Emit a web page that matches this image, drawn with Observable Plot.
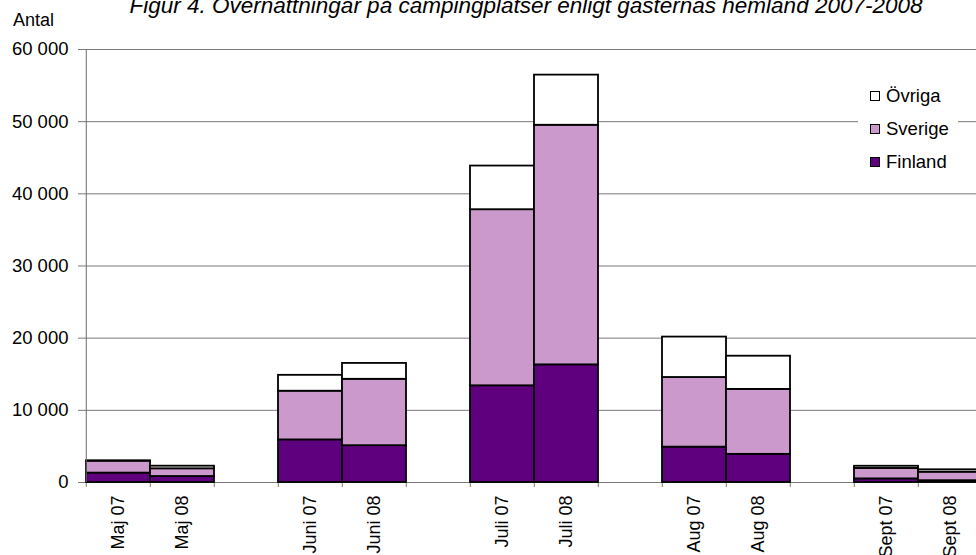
<!DOCTYPE html>
<html>
<head>
<meta charset="utf-8">
<script src="https://cdn.jsdelivr.net/npm/d3@7"></script>
<script src="https://cdn.jsdelivr.net/npm/@observablehq/plot@0.6"></script>
<style>
  html, body { margin: 0; padding: 0; background: #fff; overflow: hidden; }
  #wrap { position: relative; width: 976px; height: 555px; overflow: hidden; font-family: "Liberation Sans", Arial, sans-serif; color: #000; }
  #chart svg { display: block; max-width: none; }
  #title { position: absolute; left: 526px; top: -5px; transform: translateX(-50%); white-space: nowrap; font-style: italic; font-size: 22.5px; line-height: 22px; }
  #ylab { position: absolute; left: 13px; top: 11px; font-size: 18px; line-height: 18px; }
  #legend { position: absolute; left: 858px; top: 74px; width: 100px; height: 102px; background: #fff; }
  .item { position: absolute; left: 12px; height: 18px; display: flex; align-items: center; font-size: 18.5px; line-height: 18px; white-space: nowrap; }
  .sw { width: 8px; height: 8px; border: 1.4px solid #000; margin-right: 6px; }
</style>
</head>
<body>
<div id="wrap">
  <div id="chart"></div>
  <div id="title">Figur 4. Övernattningar på campingplatser enligt gästernas hemland 2007-2008</div>
  <div id="ylab">Antal</div>
  <div id="legend"></div>
</div>
<script>
// ---- data ----
const categories = ["Maj 07", "Maj 08", "Juni 07", "Juni 08", "Juli 07", "Juli 08", "Aug 07", "Aug 08", "Sept 07", "Sept 08"];
const finland = [1300, 830, 5900, 5100, 13400, 16300, 4900, 3900, 500, 250];
const sverige = [1650, 1070, 6750, 9200, 24400, 33200, 9650, 9000, 1450, 1180];
const ovriga  = [50, 360, 2200, 2200, 6050, 6950, 5600, 4600, 300, 330];
const seriesNames = ["Finland", "Sverige", "Övriga"];
const seriesColors = ["#5f007f", "#cc99cc", "#ffffff"];
const yTicks = [0, 10000, 20000, 30000, 40000, 50000, 60000];
// blank slots between months (as in the original category axis)
const domain = ["Maj 07", "Maj 08", "_g1", "Juni 07", "Juni 08", "_g2", "Juli 07", "Juli 08", "_g3", "Aug 07", "Aug 08", "_g4", "Sept 07", "Sept 08"];

const seriesValues = [finland, sverige, ovriga];
const rows = [];
categories.forEach((c, i) => {
  seriesNames.forEach((s, j) => rows.push({month: c, series: s, value: seriesValues[j][i]}));
});

const xRange = [82.7, 985.2];
const bw = (xRange[1] - xRange[0]) / domain.length;
const fmt = d => d3.format(",")(d).replace(/,/g, " ");

const chart = Plot.plot({
  width: 976,
  height: 555,
  marginLeft: 83,
  marginRight: 0,
  marginTop: 49,
  marginBottom: 73,
  style: {fontFamily: "Liberation Sans, Arial, sans-serif", fontSize: "18px", color: "#000", background: "#fff"},
  x: {type: "band", domain, range: xRange, padding: 0},
  y: {domain: [0, 60000]},
  color: {domain: seriesNames, range: seriesColors},
  marks: [
    Plot.ruleY(yTicks, {stroke: "#7a7a7a", strokeWidth: 1}),
    Plot.axisY({ticks: yTicks, tickFormat: fmt, tickSize: 5, tickPadding: 10, fontSize: 18.5, stroke: "#7a7a7a", label: null}),
    Plot.axisX({ticks: domain, tickSize: 5, tickFormat: () => "", dx: -bw / 2, stroke: "#7a7a7a", label: null}),
    Plot.axisX({ticks: categories, tickSize: 0, tickPadding: 13, tickRotate: -90, fontSize: 18, label: null}),
    Plot.barY(rows, {x: "month", y: "value", fill: "series", stroke: "#000", strokeWidth: 1.8}),
    Plot.ruleX([domain[0]], {x: d => d, dx: -bw / 2, y1: 0, y2: 60000, stroke: "#6a6a6a"})
  ]
});
document.getElementById("chart").appendChild(chart);

// legend (top to bottom: Övriga, Sverige, Finland)
const legend = document.getElementById("legend");
const tops = [13, 46, 79];
seriesNames.slice().reverse().forEach((s, k) => {
  const idx = seriesNames.indexOf(s);
  const it = document.createElement("div");
  it.className = "item";
  it.style.top = tops[k] + "px";
  const sw = document.createElement("span");
  sw.className = "sw";
  sw.style.background = seriesColors[idx];
  it.appendChild(sw);
  it.appendChild(document.createTextNode(s));
  legend.appendChild(it);
});
</script>
</body>
</html>
